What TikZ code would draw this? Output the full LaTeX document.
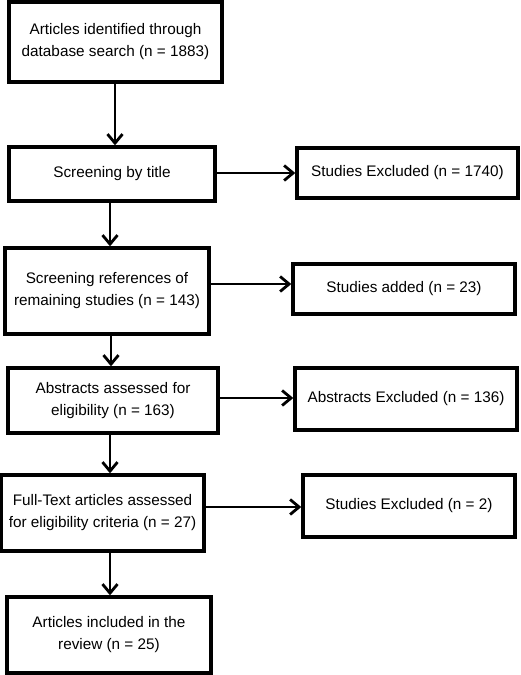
\documentclass[tikz,border=0pt]{standalone}
\usepackage{fontspec}
\setmainfont{Liberation Sans}
\usetikzlibrary{arrows.meta}
\begin{document}
\begin{tikzpicture}[x=1pt,y=-1pt,
  box/.style={draw=black, line width=3.4pt, fill=white, align=center, inner sep=0pt,
    font=\fontsize{15.3}{22}\selectfont},
  arr/.style={line width=2.8pt, -{Straight Barb[length=9pt,width=15pt,line width=2.8pt]}}]
\useasboundingbox (0,0) rectangle (520,675);
\node[box, minimum width=213pt, minimum height=80pt] (b1) at (115.5,42) {Articles identified through\\database search (n = 1883)};
\node[box, minimum width=206pt, minimum height=54pt] (b2) at (112,174) {Screening by title};
\node[box, minimum width=221pt, minimum height=50pt] (e1) at (407.5,173) {Studies Excluded (n = 1740)};
\node[box, minimum width=204pt, minimum height=86pt] (b3) at (107,291) {Screening references of\\remaining studies (n = 143)};
\node[box, minimum width=222pt, minimum height=50pt] (e2) at (404,289) {Studies added (n = 23)};
\node[box, minimum width=210pt, minimum height=65pt] (b4) at (113,400.5) {Abstracts assessed for\\eligibility (n = 163)};
\node[box, minimum width=222pt, minimum height=62pt] (e3) at (406,399) {Abstracts Excluded (n = 136)};
\node[box, minimum width=203pt, minimum height=76pt] (b5) at (102.5,513) {Full-Text articles assessed\\for eligibility criteria (n = 27)};
\node[box, minimum width=212pt, minimum height=62pt] (e4) at (409,506) {Studies Excluded (n = 2)};
\node[box, minimum width=204pt, minimum height=76pt] (b6) at (109,635) {Articles included in the\\review (n = 25)};
\coordinate (v1) at (115,0);
\coordinate (v2) at (110,0);
\coordinate (v3) at (111,0);
\draw[arr] (v1 |- b1.south) -- (v1 |- b2.north);
\draw[arr] (v2 |- b2.south) -- (v2 |- b3.north);
\draw[arr] (v3 |- b3.south) -- (v3 |- b4.north);
\draw[arr] (v2 |- b4.south) -- (v2 |- b5.north);
\draw[arr] (v2 |- b5.south) -- (v2 |- b6.north);
\coordinate (h1) at (0,173);
\coordinate (h2) at (0,284);
\coordinate (h3) at (0,398);
\coordinate (h4) at (0,507);
\draw[arr] (b2.east |- h1) -- (e1.west |- h1);
\draw[arr] (b3.east |- h2) -- (e2.west |- h2);
\draw[arr] (b4.east |- h3) -- (e3.west |- h3);
\draw[arr] (b5.east |- h4) -- (e4.west |- h4);
\end{tikzpicture}
\end{document}
